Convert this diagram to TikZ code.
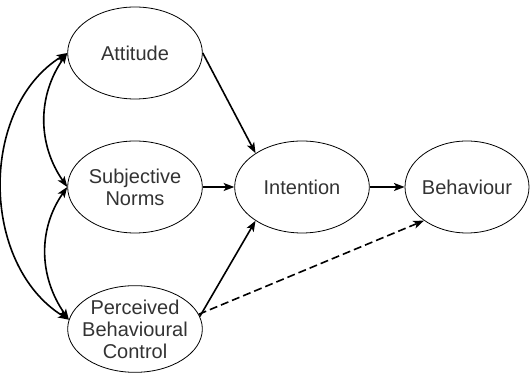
\documentclass[tikz,border=0pt]{standalone}
\usepackage{fontspec}
\setmainfont{Liberation Sans}
\usetikzlibrary{shapes.geometric, arrows.meta}

\begin{document}
\begin{tikzpicture}[->, >={Stealth[length=8pt, width=6pt, inset=2pt]}, line width=1.2pt, x=0.75pt, y=0.75pt,
    var/.style={ellipse, draw, semithick, minimum width=101pt, minimum height=69pt,
        inner sep=-4pt, align=center, text=black!80,
        font=\fontsize{15}{16.5}\selectfont}]
    \useasboundingbox (0,0) rectangle (530,373);
    \node[var] (att) at (135,320) {Attitude};
    \node[var] (sn)  at (135,186) {Subjective\\Norms};
    \node[var, minimum height=65pt] (pbc) at (135,44) {Perceived\\Behavioural\\Control};
    \node[var] (int) at (302,186) {Intention};
    \node[var, minimum width=93pt] (beh) at (467,186) {Behaviour};
    \draw (att.east) -- (int.144);
    \draw (sn) -- (int);
    \draw (pbc.11) -- (int.216);
    \draw (int) -- (beh);
    \draw[dash pattern=on 6pt off 3pt] (pbc.13) -- (beh.218);
    \draw[<->] (att.west) to[out=235, in=125] (sn.west);
    \draw[<->] (sn.west) to[out=235, in=125] (pbc.172);
    \draw[<->] (att.west) to[out=212, in=148] (pbc.172);
\end{tikzpicture}
\end{document}
